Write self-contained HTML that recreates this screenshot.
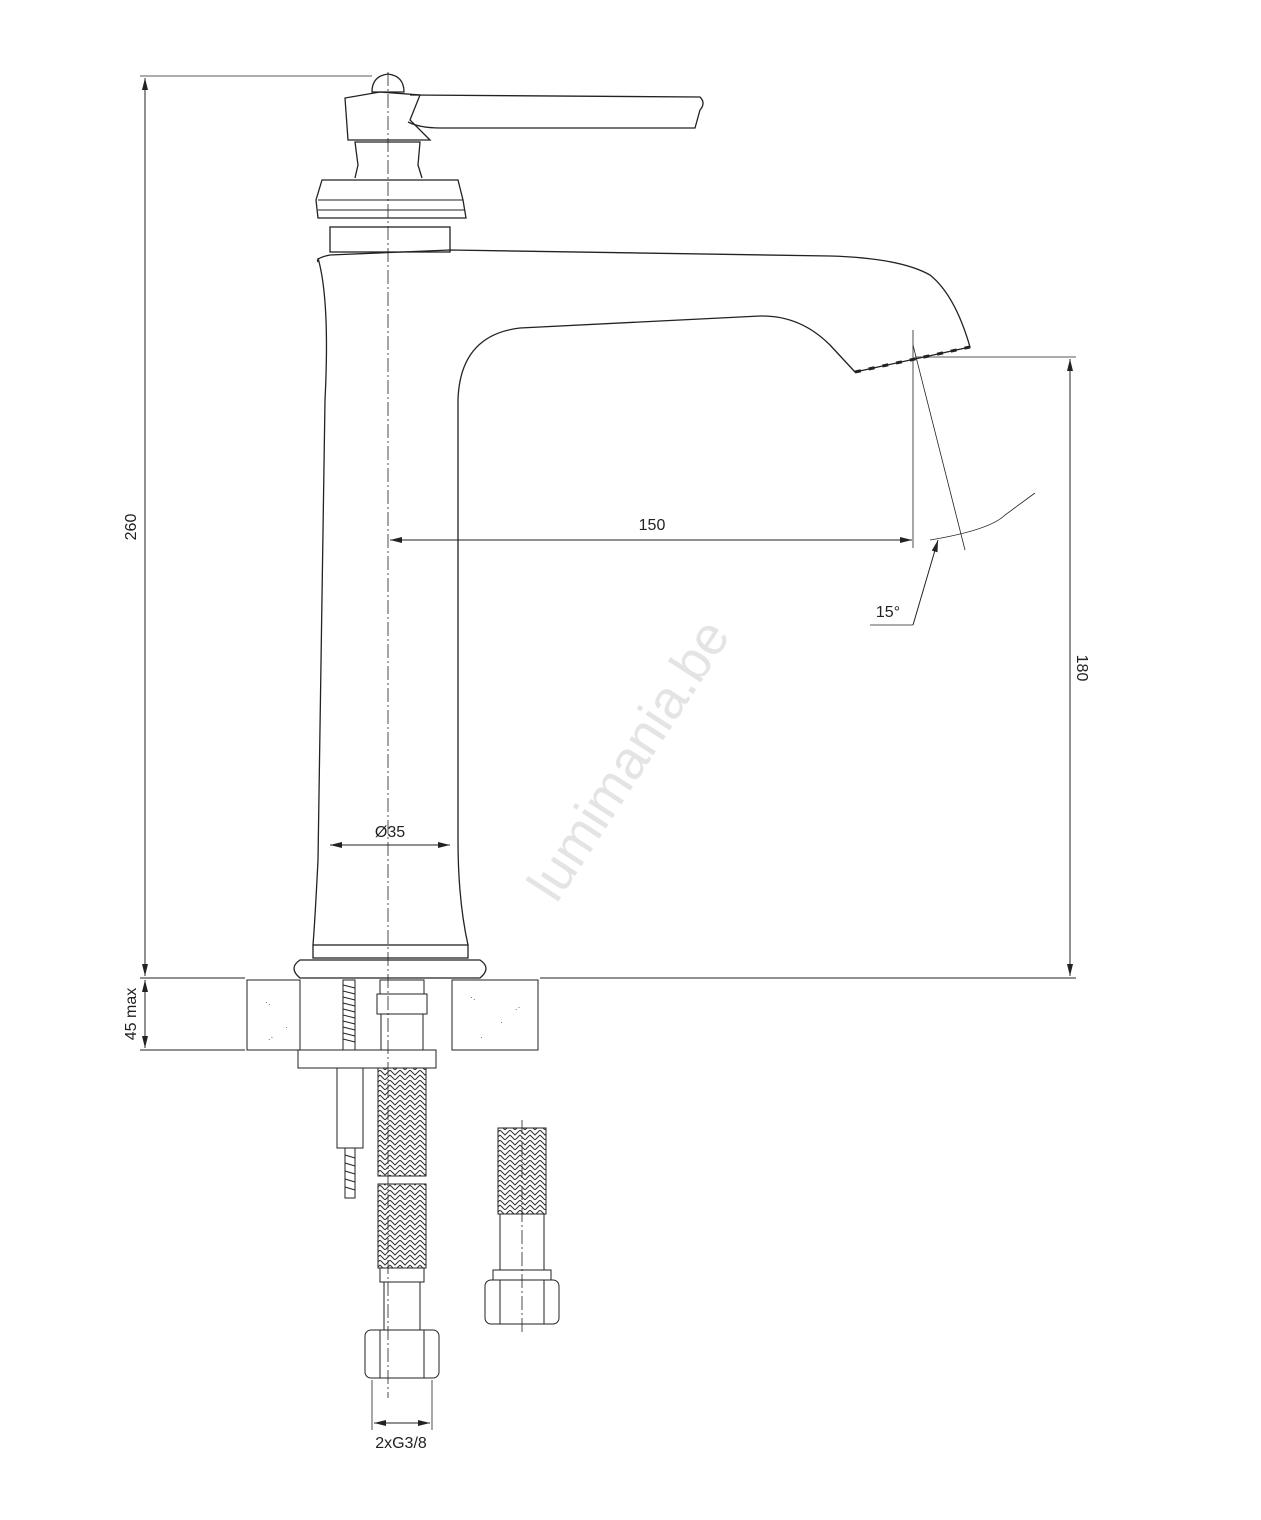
<!DOCTYPE html>
<html><head><meta charset="utf-8"><style>
html,body{margin:0;padding:0;background:#fff;}
svg{display:block;font-family:"Liberation Sans",sans-serif;}
</style></head><body>
<svg width="1261" height="1520" viewBox="0 0 1261 1520" xmlns="http://www.w3.org/2000/svg">
<defs>
<marker id="a" markerWidth="12" markerHeight="8" refX="12" refY="4" orient="auto-start-reverse" markerUnits="userSpaceOnUse"><path d="M0,1 L12,4 L0,7 Z" fill="#222"/></marker>
<pattern id="braid" width="10" height="10" patternUnits="userSpaceOnUse"><path d="M0,0 L5,5 L10,0 M0,5 L5,10 L10,5" stroke="#333" stroke-width="1" fill="none"/></pattern>
</defs>
<g stroke="#222" fill="none" stroke-width="1">
<line x1="140" y1="76" x2="372" y2="76" stroke-width="0.8"/>
<line x1="145" y1="78" x2="145" y2="976" marker-start="url(#a)" marker-end="url(#a)"/>
<line x1="140" y1="978" x2="245" y2="978"/>
<line x1="540" y1="978" x2="1076" y2="978"/>
<line x1="140" y1="1050" x2="245" y2="1050"/>
<line x1="145" y1="980" x2="145" y2="1048" marker-start="url(#a)" marker-end="url(#a)"/>
<line x1="915" y1="357" x2="1076" y2="357" stroke-width="0.8"/>
<line x1="1070" y1="359" x2="1070" y2="976" marker-start="url(#a)" marker-end="url(#a)"/>
<line x1="390" y1="540" x2="912" y2="540" marker-start="url(#a)" marker-end="url(#a)"/>
<line x1="913" y1="330" x2="913" y2="548" stroke-width="0.8"/>
<line x1="913" y1="345" x2="965" y2="550" stroke-width="0.8"/>
<path d="M930,540 Q990,530 1005,515 L1035,493" stroke-width="0.8"/>
<line x1="913" y1="625" x2="938" y2="540" marker-end="url(#a)"/>
<line x1="870" y1="625" x2="913" y2="625" stroke-width="0.8"/>
<line x1="330" y1="845" x2="450" y2="845" marker-start="url(#a)" marker-end="url(#a)"/>
<line x1="388" y1="72" x2="388" y2="1398" stroke-dasharray="14,3,2,3" stroke-width="0.8"/>
<line x1="522" y1="1120" x2="522" y2="1332" stroke-dasharray="14,3,2,3" stroke-width="0.8"/>
<path d="M318,258 Q330,300 325,400 L318,860 Q315,920 313,945" stroke-width="1.3"/>
<path d="M468,945 Q458,900 458,840 L458,400 Q460,335 520,328 L760,316 Q800,315 830,345 L855,372 L970,347 Q955,295 930,275 Q900,258 830,256 L450,250 L330,255 Q315,258 318,262" stroke-width="1.3"/>
<line x1="855" y1="372" x2="970" y2="347" stroke-width="3" stroke-dasharray="6,8"/>
<rect x="330" y="227" width="120" height="25" stroke-width="1.3"/>
<path d="M318,218 L316,200 L322,180 L458,180 L463,200 L466,218 Z" stroke-width="1.3"/>
<line x1="318" y1="200" x2="463" y2="200"/>
<line x1="318" y1="210" x2="464" y2="210"/>
<path d="M355,178 L358,165 L355,142 L420,142 L418,165 L422,178" stroke-width="1.3"/>
<path d="M348,140 L345,98 L380,92 L420,95 L410,120 L425,135 L430,140 Z" stroke-width="1.3"/>
<path d="M410,95 L700,97 Q706,103 700,110 L695,128 L440,128 Q420,128 408,122" stroke-width="1.3"/>
<path d="M372,92 Q372,76 388,74 Q404,76 404,92 Z" stroke-width="1.3"/>
<rect x="313" y="945" width="155" height="13" stroke-width="1.3"/>
<path d="M300,960 L480,960 Q492,968 480,978 L300,978 Q288,968 300,960 Z" stroke-width="1.3"/>
<rect x="247" y="980" width="53" height="70"/>
<rect x="452" y="980" width="86" height="70"/>
<rect x="298" y="1050" width="138" height="18"/>
<rect x="343" y="980" width="12" height="70"/>
<path d="M343,985 l12,3 M343,991 l12,3 M343,997 l12,3 M343,1003 l12,3 M343,1009 l12,3 M343,1015 l12,3 M343,1021 l12,3 M343,1027 l12,3 M343,1033 l12,3 M343,1039 l12,3"/>
<rect x="337" y="1068" width="26" height="80"/>
<rect x="345" y="1148" width="10" height="50"/>
<path d="M345,1155 l10,3 M345,1163 l10,3 M345,1171 l10,3 M345,1179 l10,3 M345,1187 l10,3"/>
<rect x="380" y="980" width="44" height="14"/>
<rect x="377" y="994" width="50" height="20"/>
<rect x="381" y="1014" width="42" height="36"/>
<rect x="378" y="1068" width="48" height="108" fill="url(#braid)"/>
<rect x="378" y="1184" width="48" height="84" fill="url(#braid)"/>
<rect x="380" y="1268" width="44" height="14"/>
<rect x="384" y="1282" width="36" height="48"/>
<rect x="365" y="1330" width="74" height="48" rx="6"/>
<line x1="380" y1="1330" x2="380" y2="1378"/><line x1="424" y1="1330" x2="424" y2="1378"/>
<line x1="372" y1="1380" x2="372" y2="1430" stroke-width="0.8"/>
<line x1="432" y1="1380" x2="432" y2="1430" stroke-width="0.8"/>
<line x1="374" y1="1423" x2="430" y2="1423" marker-start="url(#a)" marker-end="url(#a)"/>
<rect x="498" y="1128" width="48" height="86" fill="url(#braid)"/>
<rect x="500" y="1214" width="44" height="56"/>
<rect x="493" y="1270" width="58" height="10"/>
<rect x="485" y="1280" width="74" height="44" rx="6"/>
<line x1="500" y1="1280" x2="500" y2="1324"/><line x1="544" y1="1280" x2="544" y2="1324"/>
</g>
<g fill="#666" font-size="9">
<text x="265" y="1005">·.</text><text x="285" y="1030">·</text><text x="268" y="1040">.·</text>
<text x="470" y="1000">·.</text><text x="500" y="1025">·</text><text x="515" y="1010">.·</text><text x="480" y="1040">·</text>
</g>
<g fill="#222" font-size="16">
<text x="652" y="530" text-anchor="middle">150</text>
<text x="888" y="617" text-anchor="middle">15°</text>
<text x="390" y="837" text-anchor="middle">Ø35</text>
<text x="401" y="1448" text-anchor="middle">2xG3/8</text>
<text transform="translate(136,527) rotate(-90)" text-anchor="middle">260</text>
<text transform="translate(136,1014) rotate(-90)" text-anchor="middle">45 max</text>
<text transform="translate(1077,668) rotate(90)" text-anchor="middle">180</text>
</g>
<text transform="translate(632,762) rotate(-57)" text-anchor="middle" dominant-baseline="middle" font-size="54" fill="#e4e4e4">lumimania.be</text>
</svg>
</body></html>
